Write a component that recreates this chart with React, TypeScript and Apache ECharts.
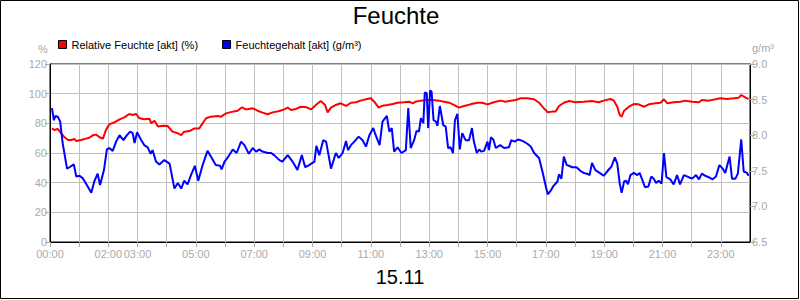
import React, { useEffect, useRef } from 'react';
import * as echarts from 'echarts';

// time in minutes since 00:00
const redTimes = [4, 9, 16, 23, 30, 37, 44, 50, 54, 64, 74, 81, 88, 95, 102, 109, 115, 122, 133, 143, 153, 163, 170, 177, 184, 194, 205, 208, 215, 222, 232, 242, 252, 263, 270, 276, 287, 297, 307, 321, 331, 345, 352, 359, 362, 376, 386, 395, 403, 417, 427, 437, 448, 458, 472, 482, 489, 496, 506, 516, 528, 537, 547, 557, 566, 571, 578, 588, 598, 609, 619, 629, 639, 650, 660, 667, 676, 684, 694, 705, 715, 728, 739, 746, 752, 763, 776, 787, 800, 811, 821, 831, 841, 852, 865, 879, 889, 900, 913, 927, 937, 948, 958, 968, 982, 996, 1006, 1016, 1024, 1033, 1040, 1047, 1057, 1068, 1081, 1098, 1115, 1129, 1139, 1153, 1160, 1167, 1172, 1176, 1181, 1191, 1201, 1211, 1222, 1232, 1246, 1256, 1263, 1270, 1283, 1297, 1307, 1321, 1335, 1341, 1355, 1369, 1379, 1393, 1407, 1417, 1422, 1431, 1437];
const redValues = [76.6, 75.5, 76.2, 73.3, 70.6, 68.8, 68.8, 69.4, 68.1, 68.8, 69.7, 70.3, 71.9, 72.4, 70.6, 69.7, 75.5, 79.3, 80.7, 82.7, 84.0, 86.3, 85.6, 86.3, 83.4, 82.7, 83.1, 80.0, 81.8, 77.8, 78.4, 78.2, 74.4, 73.3, 72.1, 74.4, 74.8, 76.6, 76.6, 83.4, 84.5, 84.9, 84.5, 86.1, 86.7, 87.9, 88.5, 90.8, 89.4, 90.1, 88.5, 87.2, 86.1, 87.4, 88.3, 89.4, 90.6, 89.0, 89.7, 91.2, 90.8, 89.4, 92.4, 95.1, 92.4, 87.4, 90.6, 92.4, 93.5, 91.7, 93.9, 94.2, 95.3, 96.2, 96.9, 94.6, 90.6, 91.9, 92.4, 93.0, 93.9, 94.2, 94.6, 93.5, 94.6, 95.3, 95.7, 95.7, 95.3, 94.6, 93.9, 92.4, 90.6, 91.7, 92.8, 93.9, 93.9, 92.8, 94.2, 95.3, 94.6, 95.3, 95.7, 96.9, 96.9, 96.2, 93.9, 90.1, 87.4, 87.9, 87.9, 91.7, 93.9, 95.1, 94.2, 94.6, 95.1, 94.2, 95.3, 96.4, 95.3, 91.2, 85.6, 84.5, 88.5, 91.2, 93.0, 92.8, 91.2, 92.8, 93.5, 93.9, 96.2, 93.5, 94.2, 94.6, 95.3, 94.6, 94.2, 95.7, 95.3, 96.2, 96.9, 96.4, 96.9, 97.3, 99.1, 97.3, 96.4];

const blueTimes = [4, 8, 11, 16, 21, 26, 35, 40, 49, 54, 61, 68, 74, 85, 91, 98, 103, 111, 117, 122, 129, 136, 143, 151, 157, 165, 170, 174, 179, 187, 194, 201, 207, 211, 218, 225, 235, 246, 256, 263, 270, 276, 283, 290, 298, 305, 314, 324, 331, 341, 350, 353, 359, 365, 376, 384, 393, 400, 409, 417, 424, 431, 437, 448, 455, 461, 472, 478, 489, 499, 509, 518, 525, 533, 544, 548, 554, 562, 568, 578, 588, 594, 602, 609, 613, 619, 626, 635, 643, 650, 657, 665, 670, 678, 684, 693, 698, 703, 708, 715, 723, 732, 737, 742, 749, 754, 759, 763, 768, 771, 775, 778, 782, 785, 789, 794, 797, 802, 809, 814, 819, 824, 829, 833, 838, 843, 848, 855, 862, 868, 872, 878, 883, 887, 893, 900, 903, 907, 912, 917, 926, 934, 944, 949, 956, 963, 972, 982, 989, 996, 1006, 1013, 1020, 1024, 1030, 1035, 1044, 1047, 1052, 1057, 1063, 1068, 1074, 1083, 1091, 1098, 1105, 1110, 1115, 1122, 1133, 1139, 1146, 1155, 1162, 1167, 1172, 1176, 1181, 1185, 1189, 1194, 1201, 1208, 1213, 1218, 1224, 1231, 1237, 1242, 1247, 1252, 1258, 1263, 1268, 1276, 1283, 1290, 1296, 1304, 1314, 1321, 1329, 1335, 1341, 1348, 1355, 1363, 1370, 1377, 1384, 1389, 1398, 1403, 1410, 1415, 1422, 1427, 1434, 1437];
const blueValues = [8.38, 8.21, 8.27, 8.26, 8.19, 7.89, 7.53, 7.55, 7.59, 7.42, 7.43, 7.39, 7.32, 7.19, 7.35, 7.46, 7.30, 7.51, 7.80, 7.82, 7.78, 7.91, 8.00, 7.93, 7.99, 8.05, 8.03, 7.89, 8.04, 7.94, 7.86, 7.83, 7.74, 7.79, 7.63, 7.59, 7.65, 7.60, 7.25, 7.33, 7.25, 7.36, 7.31, 7.44, 7.57, 7.36, 7.58, 7.78, 7.70, 7.58, 7.57, 7.52, 7.63, 7.68, 7.80, 7.75, 7.91, 7.86, 7.74, 7.82, 7.77, 7.80, 7.77, 7.75, 7.75, 7.72, 7.65, 7.63, 7.72, 7.63, 7.51, 7.72, 7.55, 7.58, 7.63, 7.85, 7.72, 7.93, 7.91, 7.53, 7.75, 7.68, 7.75, 7.92, 7.79, 7.86, 7.91, 7.98, 7.93, 7.84, 8.00, 8.10, 8.00, 7.86, 8.19, 8.27, 8.05, 8.10, 7.77, 7.83, 7.75, 7.79, 8.38, 7.82, 7.93, 8.06, 8.05, 8.24, 8.17, 8.60, 8.59, 8.10, 8.63, 8.61, 8.21, 8.19, 8.13, 8.41, 8.14, 8.12, 7.82, 7.83, 7.75, 8.21, 8.30, 7.80, 8.03, 7.93, 7.93, 8.10, 7.91, 7.75, 7.80, 7.77, 7.78, 7.91, 7.79, 7.97, 7.94, 7.82, 7.86, 7.82, 7.83, 7.93, 7.91, 7.94, 7.92, 7.88, 7.84, 7.75, 7.68, 7.49, 7.28, 7.17, 7.22, 7.28, 7.35, 7.45, 7.39, 7.70, 7.58, 7.57, 7.55, 7.55, 7.50, 7.47, 7.46, 7.44, 7.61, 7.51, 7.46, 7.43, 7.49, 7.56, 7.69, 7.60, 7.32, 7.19, 7.35, 7.36, 7.31, 7.44, 7.47, 7.44, 7.47, 7.38, 7.27, 7.28, 7.42, 7.39, 7.33, 7.36, 7.32, 7.75, 7.41, 7.38, 7.31, 7.44, 7.31, 7.44, 7.41, 7.39, 7.44, 7.38, 7.46, 7.43, 7.41, 7.38, 7.42, 7.58, 7.53, 7.47, 7.70, 7.39, 7.39, 7.46, 7.94, 7.49, 7.47, 7.43];

const xTickLabels = ['00:00', '02:00', '03:00', '05:00', '07:00', '09:00', '11:00', '13:00', '15:00', '17:00', '19:00', '21:00', '23:00'];

const titleText = 'Feuchte';
const dateText = '15.11';
const redName = 'Relative Feuchte [akt] (%)';
const blueName = 'Feuchtegehalt [akt] (g/m³)';
const leftUnit = '%';
const rightUnit = 'g/m³';

const FONT = '"Liberation Sans", Arial, Helvetica, sans-serif';
const LABEL_GRAY = '#aaaaaa';
const GRID_GRAY = '#c0c0c0';

export default function App() {
  const ref = useRef<HTMLDivElement>(null);

  useEffect(() => {
    document.body.style.margin = '0';
    if (!ref.current) return;
    const chart = echarts.init(ref.current, null, { renderer: 'svg' });

    const fmtHour = (v: number) => {
      const h = Math.round(v / 60);
      const s = String(h).padStart(2, '0') + ':00';
      return xTickLabels.includes(s) ? s : '';
    };

    chart.setOption({
      animation: false,
      backgroundColor: '#ffffff',
      textStyle: { fontFamily: FONT },
      grid: {
        left: 50,
        right: 50,
        top: 64,
        bottom: 58,
        show: true,
        borderColor: '#000',
        borderWidth: 1,
        containLabel: false,
      },
      legend: {
        left: 58,
        top: 39,
        padding: 0,
        itemWidth: 8,
        itemHeight: 8,
        itemGap: 24,
        icon: 'rect',
        textStyle: { fontSize: 11, color: '#000', fontFamily: FONT },
        itemStyle: { borderColor: '#000', borderWidth: 1 },
        data: [redName, blueName],
      },
      xAxis: {
        type: 'value',
        min: 0,
        max: 1440,
        interval: 60,
        axisLine: { show: true, lineStyle: { color: '#000', width: 1 } },
        axisTick: { show: true, length: 5, lineStyle: { color: LABEL_GRAY } },
        axisLabel: {
          color: LABEL_GRAY,
          fontSize: 11,
          fontFamily: FONT,
          margin: 6,
          formatter: fmtHour,
          showMaxLabel: false,
        },
        splitLine: { show: true, lineStyle: { color: GRID_GRAY, width: 1 } },
      },
      yAxis: [
        {
          type: 'value',
          min: 0,
          max: 120,
          interval: 20,
          position: 'left',
          axisLine: { show: true, lineStyle: { color: '#000', width: 1 } },
          axisTick: { show: true, length: 5, lineStyle: { color: LABEL_GRAY } },
          axisLabel: { color: LABEL_GRAY, fontSize: 11, fontFamily: FONT, margin: 3 },
          splitLine: { show: true, lineStyle: { color: GRID_GRAY, width: 1 } },
        },
        {
          type: 'value',
          min: 6.5,
          max: 9.0,
          interval: 0.5,
          position: 'right',
          axisLine: { show: true, lineStyle: { color: '#000', width: 1 } },
          axisTick: { show: true, length: 5, lineStyle: { color: LABEL_GRAY } },
          axisLabel: {
            color: LABEL_GRAY,
            fontSize: 11,
            fontFamily: FONT,
            margin: 2,
            formatter: (v: number) => v.toFixed(1),
          },
          splitLine: { show: false },
        },
      ],
      series: [
        {
          name: redName,
          type: 'line',
          yAxisIndex: 0,
          showSymbol: false,
          symbol: 'none',
          color: '#ff0000',
          lineStyle: { color: '#ff0000', width: 2 },
          data: redTimes.map((t, i) => [t, redValues[i]]),
        },
        {
          name: blueName,
          type: 'line',
          yAxisIndex: 1,
          showSymbol: false,
          symbol: 'none',
          color: '#0000ff',
          lineStyle: { color: '#0000ff', width: 2 },
          data: blueTimes.map((t, i) => [t, blueValues[i]]),
        },
      ],
      graphic: [
        {
          type: 'rect',
          shape: { x: 0.5, y: 0.5, width: 798, height: 298 },
          style: { fill: 'none', stroke: '#000', lineWidth: 1 },
          silent: true,
          z: 100,
        },
        {
          type: 'text',
          x: 396,
          y: 15,
          style: {
            text: titleText,
            font: `24px ${FONT}`,
            fill: '#000',
            textAlign: 'center',
            textVerticalAlign: 'middle',
          },
        },
        {
          type: 'text',
          x: 43,
          y: 49,
          style: {
            text: leftUnit,
            font: `11px ${FONT}`,
            fill: LABEL_GRAY,
            textAlign: 'center',
            textVerticalAlign: 'middle',
          },
        },
        {
          type: 'text',
          x: 752,
          y: 48,
          style: {
            text: rightUnit,
            font: `11px ${FONT}`,
            fill: LABEL_GRAY,
            textAlign: 'left',
            textVerticalAlign: 'middle',
          },
        },
        {
          type: 'text',
          x: 400,
          y: 276.5,
          style: {
            text: dateText,
            font: `20px ${FONT}`,
            fill: '#000',
            textAlign: 'center',
            textVerticalAlign: 'middle',
          },
        },
      ],
    });

    return () => {
      chart.dispose();
    };
  }, []);

  return <div ref={ref} style={{ width: 800, height: 300 }} />;
}
